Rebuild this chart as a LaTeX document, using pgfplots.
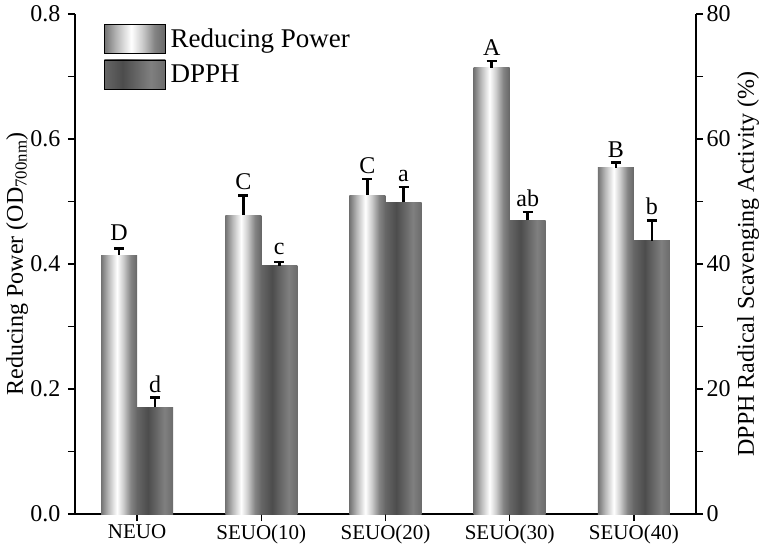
\documentclass[border=0pt]{standalone}
\usepackage{pgfplots}
\pgfplotsset{compat=1.18}
\usepackage{fontspec}
\setmainfont{Liberation Serif}

\pgfdeclarehorizontalshading{rpshade}{100bp}{rgb(0bp)=(0.45,0.45,0.45); rgb(25bp)=(0.45,0.45,0.45); rgb(35bp)=(0.72,0.72,0.72); rgb(47bp)=(1,1,1); rgb(56bp)=(0.80,0.80,0.80); rgb(66bp)=(0.52,0.52,0.52); rgb(75bp)=(0.40,0.40,0.40); rgb(100bp)=(0.40,0.40,0.40)}
\pgfdeclarehorizontalshading{dpshade}{100bp}{rgb(0bp)=(0.40,0.40,0.40); rgb(25bp)=(0.40,0.40,0.40); rgb(40bp)=(0.30,0.30,0.30); rgb(63bp)=(0.50,0.50,0.50); rgb(75bp)=(0.42,0.42,0.42); rgb(100bp)=(0.42,0.42,0.42)}

\pgfplotsset{
  common/.style={
    scale only axis, width=621pt, height=500pt,
    xmin=-0.5, xmax=4.5,
    tick align=outside, major tick length=7pt, minor tick length=7pt,
    every tick/.style={black, line width=1.2pt},
    axis line style={-, line width=1.3pt, black},
    /pgf/number format/assume math mode=true,
    ticklabel style={font=\fontsize{24}{28}\selectfont},
    label style={font=\fontsize{24}{28}\selectfont},
    clip=false,
  },
  errs/.style={
    /pgfplots/error bars/.cd, y dir=plus, y explicit,
    error bar style={line width=2.6pt, black},
    error mark options={rotate=90, mark size=5pt, line width=2.6pt, black},
    /pgfplots/.cd,
  },
  rpbar/.style={ybar, bar width=36pt, bar shift=0pt, draw=none, shade, shading=rpshade, forget plot, errs},
  dpbar/.style={ybar, bar width=36pt, bar shift=0pt, draw=none, shade, shading=dpshade, forget plot, errs},
}
\newcommand{\lab}[2]{\node[font=\fontsize{24}{28}\selectfont, anchor=base] at (axis cs:#1) {#2};}

\begin{document}
\begin{tikzpicture}
\path[use as bounding box] (-75pt,-37pt) rectangle (690pt,514pt);
\begin{axis}[common,
  ymin=0, ymax=0.8,
  axis x line*=bottom, axis y line*=left,
  xtick={0,1,2,3,4},
  xticklabels={NEUO,SEUO(10),SEUO(20),SEUO(30),SEUO(40)},
  xticklabel style={font=\fontsize{21}{24}\selectfont},
  ytick={0,0.2,0.4,0.6,0.8}, minor ytick={0.1,0.3,0.5,0.7},
  yticklabel style={xshift=-4pt, /pgf/number format/fixed, /pgf/number format/fixed zerofill, /pgf/number format/precision=1},
  ylabel={Reducing Power (OD\textsubscript{700nm})},
  ylabel style={at={(axis description cs:-0.093,0.5)}, anchor=center},
  legend style={draw=none, fill=none, at={(axis description cs:0.0467,0.98)}, anchor=north west,
    font=\fontsize{27}{30}\selectfont, row sep=6pt, inner sep=0pt},
  legend cell align=left,
]
\addlegendimage{legend image code/.code={\path[shade, shading=rpshade] (0pt,-14.5pt) rectangle (61pt,14.5pt);}}
\addlegendentry{\hspace{3pt}Reducing Power}
\addlegendimage{legend image code/.code={\path[shade, shading=dpshade] (0pt,-14.5pt) rectangle (61pt,14.5pt);}}
\addlegendentry{\hspace{3pt}DPPH}
\addplot[rpbar] coordinates {(-0.145,0.414) +- (0,0.011)};
\addplot[rpbar] coordinates {(0.855,0.478) +- (0,0.032)};
\addplot[rpbar] coordinates {(1.855,0.510) +- (0,0.026)};
\addplot[rpbar] coordinates {(2.855,0.714) +- (0,0.011)};
\addplot[rpbar] coordinates {(3.855,0.554) +- (0,0.008)};
\lab{-0.145,0.438}{D}
\lab{0.855,0.519}{C}
\lab{1.855,0.545}{C}
\lab{2.855,0.734}{A}
\lab{3.855,0.571}{B}
\end{axis}
\begin{axis}[common,
  ymin=0, ymax=80,
  axis y line*=right, axis x line=none,
  ytick={0,20,40,60,80}, minor ytick={10,30,50,70},
  ylabel={DPPH Radical Scavenging Activity (\%)},
  ylabel style={at={(axis description cs:1.084,0.5)}, anchor=center},
]
\addplot[dpbar] coordinates {(0.145,17.1) +- (0,1.5)};
\addplot[dpbar] coordinates {(1.145,39.7) +- (0,0.6)};
\addplot[dpbar] coordinates {(2.145,49.9) +- (0,2.4)};
\addplot[dpbar] coordinates {(3.145,47.0) +- (0,1.3)};
\addplot[dpbar] coordinates {(4.145,43.7) +- (0,3.3)};
\lab{0.145,19.5}{d}
\lab{1.145,41.5}{c}
\lab{2.145,53.2}{a}
\lab{3.145,49.2}{ab}
\lab{4.145,47.9}{b}
\end{axis}
\end{tikzpicture}
\end{document}
